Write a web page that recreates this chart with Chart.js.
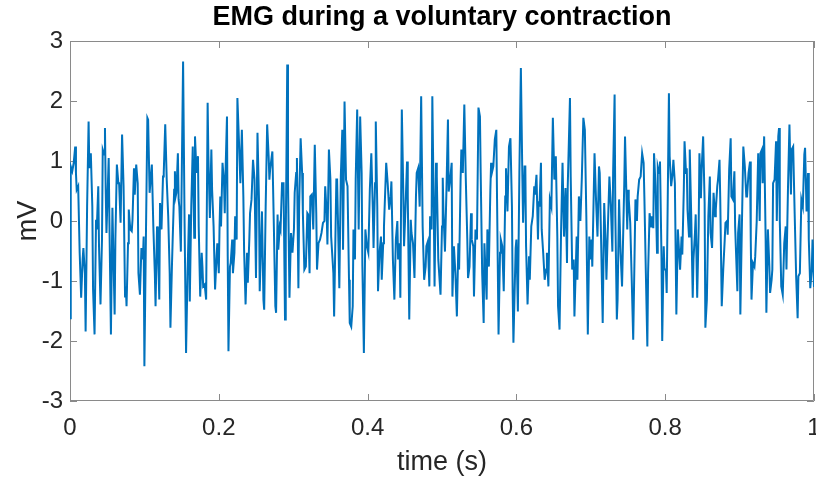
<!DOCTYPE html>
<html>
<head>
<meta charset="utf-8">
<script src="https://cdn.jsdelivr.net/npm/chart.js@4.4.1/dist/chart.umd.min.js"></script>
<style>
  body { margin: 0; background: #fff; }
  canvas { display: block; }
</style>
</head>
<body>
<canvas id="myChart" width="816" height="479"></canvas>
<script>
// EMG trace as [time (ms), voltage (mV)] pairs
const emg000 = [[0,-1.62],[1,0.91],[3,0.83],[5,0.97],[7,1.24],[8,0.80],[9,0.52],[11,0.58],[13,-0.53],[15,-1.28],[17,-0.64],[18,-0.45],[20,-0.87],[21,-1.84],[23,0.24],[25,1.66],[26,0.88],[28,1.13],[30,0.24],[31,-1.14],[33,-1.89],[35,0.02],[36,-0.14],[38,0.58],[39,-0.42],[41,-1.39],[43,-0.31],[44,1.19],[46,1.11],[47,1.55],[48,0.52],[49,-0.2],[52,1.05],[53,-0.03],[55,-1.89],[57,0.22],[60,-1.56],[61,-0.31],[63,0.94],[65,0.63],[66,0.63],[68,-0.03],[70,1.44],[72,0.58],[74,-1.26],[75,-1.09],[76,-1.42],[78,-0.37],[79,0.19],[81,-0.14],[83,-0.17],[84,0.02],[86,0.88],[87,0.44],[89,0.94],[91,0.63],[92,-0.87],[94,-1.23],[96,-0.45],[98,-0.64]];
const emg100 = [[99,-0.26],[100,-2.42],[102,-0.31],[104,1.72],[105,1.69],[107,0.47],[108,0.63],[110,0.94],[112,-0.09],[114,-0.87],[115,-1.42],[117,-0.09],[118,-0.31],[120,-1.31],[121,0.3],[123,-0.14],[125,0.74],[126,0.8],[128,1.61],[130,0.69],[132,0.08],[134,-0.87],[135,-1.78],[137,-0.76],[138,-0.31],[140,0.52],[141,0.83],[142,0.41],[143,0.47],[145,1.13],[146,0.36],[147,0.24],[149,-0.51],[152,2.66],[154,-0.03],[156,-2.2],[158,-0.87],[160,0.11],[161,-1.34],[163,0.24],[165,1.24],[167,-0.28],[168,1.41],[170,0.8],[172,1.08],[173,-0.09],[175,-1.26],[177,-0.53],[178,-0.76],[179,-1.09],[181,-1.06],[183,-1.31],[185,1.97],[186,1.08],[188,0.05],[190,1.19],[191,0.52],[193,-0.09],[195,-1.14],[197,-0.59],[198,-0.37]];
const emg200 = [[200,-0.87],[201,-0.09],[202,0.41],[203,-0.09],[205,0.97],[207,0.63],[208,0.13],[209,0.8],[211,1.74],[212,-0.59],[213,-2.17],[215,-0.76],[216,-0.7],[218,-0.31],[219,-0.87],[221,-0.53],[222,0.08],[224,-0.31],[225,2.05],[227,1.36],[229,0.63],[231,1.52],[233,0.41],[234,-0.48],[236,-1.39],[238,-0.53],[239,-1.03],[241,-0.31],[242,0.13],[244,0.36],[246,1.02],[248,0.69],[250,-0.95],[252,1.47],[254,0.36],[255,-1.17],[258,0.16],[260,-1.31],[261,-1.48],[263,0.24],[265,1.61],[267,1.08],[268,0.69],[269,0.86],[272,1.16],[274,-0.09],[276,-1.42],[277,-1.53],[279,0.11],[280,-0.48],[282,-0.09],[283,-0.14],[285,0.63],[287,0.63],[289,-1.64],[290,-0.31],[292,2.61],[293,0.69],[295,-1.28],[297,-0.2],[299,-0.53]];
const emg300 = [[301,-0.14],[302,0.47],[304,0.8],[305,1.05],[307,-1.12],[308,0.24],[310,1.38],[312,0.8],[313,0.13],[315,-0.81],[317,-0.76],[319,0.13],[320,0.11],[322,-0.87],[323,0.41],[325,0.44],[327,-0.14],[329,1.27],[331,0.13],[332,-0.81],[334,-0.37],[336,-0.31],[338,-0.2],[340,-0.03],[342,0.0],[343,0.58],[345,0.13],[346,-0.39],[348,1.19],[350,0.69],[351,-0.26],[354,-0.87],[355,-1.59],[358,0.69],[359,0.69],[361,-0.48],[362,-1.12],[364,0.74],[366,1.52],[367,-0.48],[369,1.99],[371,0.69],[373,0.58],[375,-0.98],[376,-1.7],[378,-1.76],[380,-1.42],[381,-0.14],[383,-0.64],[384,0.69],[386,1.86],[388,-0.14],[390,1.74],[392,0.8],[393,-0.76],[395,-2.2],[397,-0.14],[399,-0.42]];
const emg400 = [[401,-0.53],[403,0.52],[405,1.13],[407,0.19],[408,-0.45],[410,0.63],[411,1.66],[413,0.24],[414,-1.17],[416,-0.53],[418,-0.26],[419,-0.98],[421,-0.37],[422,-0.09],[425,0.97],[427,0.63],[429,0.19],[431,0.41],[432,0.66],[434,-0.64],[436,-1.31],[438,-0.31],[440,0.0],[441,-0.64],[443,-0.37],[444,-1.28],[446,1.86],[448,0.47],[449,-0.42],[451,0.24],[453,0.99],[454,0.41],[456,-1.64],[458,0.02],[459,-0.2],[461,-0.37],[463,-0.95],[465,0.41],[466,0.8],[468,0.88],[470,0.24],[472,2.08],[474,-0.09],[476,-0.98],[478,-0.76],[479,-0.42],[481,-0.34],[483,-1.09],[484,0.08],[486,-0.14],[487,2.08],[489,0.13],[490,-1.09],[492,0.97],[493,0.74],[495,-0.64],[498,-1.23],[500,-0.09]];
const emg500 = [[501,0.72],[502,0.13],[504,-0.51],[506,0.52],[508,1.69],[509,0.49],[511,0.69],[513,0.97],[514,-1.26],[516,-0.42],[518,-0.87],[520,-1.59],[522,-0.37],[523,-0.81],[525,0.69],[526,1.19],[528,0.8],[530,1.94],[532,0.69],[534,-0.31],[535,-0.95],[537,-0.76],[539,0.13],[540,-0.31],[542,-0.42],[543,-1.26],[545,-0.14],[547,-0.31],[549,1.89],[551,1.74],[552,0.8],[554,-0.87],[556,-1.7],[557,-0.37],[560,-1.31],[561,-0.14],[563,-0.76],[565,0.52],[566,0.97],[567,0.8],[569,0.91],[571,1.36],[573,1.52],[574,0.36],[576,-1.89],[578,-0.53],[579,-0.31],[581,-0.42],[583,-1.17],[585,0.41],[586,0.88],[588,0.16],[590,1.24],[592,1.38],[594,0.24],[595,-1.2],[596,-2.03]];
const emg600 = [[599,-0.45],[600,-0.31],[602,-1.51],[604,0.8],[606,2.55],[608,0.74],[609,-0.03],[611,0.91],[612,0.91],[613,-0.42],[615,-1.39],[617,-0.59],[618,-0.98],[620,-0.09],[622,0.08],[624,0.58],[625,0.44],[627,0.77],[629,-0.31],[630,0.33],[631,0.24],[633,0.97],[634,-0.14],[636,-0.53],[638,-0.98],[640,-0.81],[641,-0.53],[643,-1.09],[645,0.36],[647,0.24],[649,1.72],[651,0.69],[653,1.08],[655,-0.26],[656,-1.42],[658,-1.81],[660,-0.2],[662,0.97],[664,-0.26],[666,0.55],[668,-0.7],[669,0.58],[672,2.05],[673,0.74],[675,-0.81],[677,-0.64],[678,-1.59],[681,-0.26],[682,-0.98],[684,0.41],[686,0.0],[688,0.74],[690,1.72],[692,1.52],[694,0.08],[696,-1.89],[698,-0.26],[699,-0.64],[701,-0.31],[702,-0.76]];
const emg700 = [[705,1.13],[707,0.36],[709,-0.26],[711,0.91],[712,0.8],[714,-0.42],[716,-1.7],[718,0.3],[720,-0.42],[721,-0.98],[723,-0.09],[725,0.74],[727,0.24],[729,-0.51],[730,0.8],[732,2.11],[733,0.08],[735,-1.64],[736,-1.31],[738,0.36],[740,-0.53],[742,-1.09],[745,0.63],[746,1.41],[749,-0.14],[750,0.52],[751,0.36],[753,-0.03],[755,-0.98],[757,-1.98],[760,0.36],[762,0.0],[763,0.41],[765,0.69],[767,0.74],[769,1.13],[771,0.97],[772,0.41],[774,-0.87],[776,-2.09],[777,-0.87],[779,0.13],[781,-0.09],[782,0.08],[784,-0.12],[785,1.13],[787,0.58],[789,-0.53],[790,0.91],[792,0.8],[793,0.99],[795,-0.59],[796,-2.0],[798,-0.42],[799,-0.81],[801,-0.81],[802,-1.2]];
const emg800 = [[805,2.13],[806,1.08],[808,0.58],[810,0.8],[811,1.02],[813,0.63],[815,-1.56],[817,-0.14],[819,-0.59],[820,-0.81],[822,-0.26],[823,-0.56],[825,0.52],[826,1.33],[828,0.8],[829,0.88],[830,0.19],[832,-0.26],[833,1.19],[835,0.08],[837,-1.28],[838,-0.64],[840,-0.2],[841,0.11],[843,-1.28],[845,-0.09],[846,1.13],[848,0.38],[849,0.86],[851,1.41],[853,0.3],[854,-1.78],[856,-1.31],[858,0.08],[860,0.74],[861,-0.2],[863,-0.45],[865,0.47],[867,0.08],[868,0.19],[870,0.58],[871,0.69],[873,1.02],[874,0.36],[876,-1.42],[878,-0.81],[880,-0.31],[881,-0.03],[883,0.0],[884,-0.23],[886,0.86],[888,1.38],[889,0.41],[891,0.36],[893,0.83],[894,-0.09],[897,-1.17],[898,-0.2],[900,0.11],[901,-1.56],[903,-0.14],[905,1.24]];
const emg900 = [[907,0.91],[909,0.41],[910,0.41],[912,0.8],[914,0.99],[915,-0.31],[916,-1.31],[918,-0.7],[920,-0.76],[921,-0.59],[923,0.0],[925,1.13],[927,0.0],[928,1.13],[930,1.19],[931,0.63],[933,1.41],[935,-0.31],[936,-1.53],[938,-0.14],[940,-0.76],[941,-1.2],[943,-0.98],[944,-0.81],[945,0.63],[947,0.69],[949,1.33],[950,0.0],[952,1.41],[953,1.55],[954,0.02],[956,-1.09],[958,-1.23],[960,-0.37],[962,-0.09],[963,-0.81],[965,0.52],[967,1.61],[969,0.44],[970,1.19],[972,1.24],[974,0.13],[976,-0.92],[978,-1.62],[979,-0.92],[981,-0.87],[983,0.36],[985,0.24],[987,1.11],[988,1.22],[990,0.16],[992,0.8],[993,-0.31],[995,-1.12],[997,-0.81],[998,-0.31],[999,-0.53],[1000,-1.1]];

const segments = [emg000, emg100, emg200, emg300, emg400, emg500, emg600, emg700, emg800, emg900];

const xTicks = [0, 0.2, 0.4, 0.6, 0.8, 1];
const yTicks = [-3, -2, -1, 0, 1, 2, 3];
const titleText = 'EMG during a voluntary contraction';

function getDataForChart() {
    let data = [];
    for (let seg of segments) {
        for (let p of seg) {
            data.push({ x: p[0] / 1000, y: p[1] });
        }
    }
    return data;
}

const fontFamily = "'Liberation Sans', Arial, Helvetica, sans-serif";
const axisColor = '#8a8a8a';
const textColor = '#262626';

// box round the plot plus inward tick marks on all four sides
const matlabBox = {
    id: 'matlabBox',
    beforeDatasetsDraw(chart) {
        const { ctx, chartArea: { left, right, top, bottom }, scales: { x, y } } = chart;
        const len = 7;
        ctx.save();
        ctx.strokeStyle = axisColor;
        ctx.lineWidth = 1;
        ctx.beginPath();
        ctx.rect(left + 0.5, top + 0.5, right - left - 1, bottom - top - 1);
        xTicks.forEach(v => {
            const px = Math.round(x.getPixelForValue(v)) + 0.5;
            ctx.moveTo(px, bottom); ctx.lineTo(px, bottom - len);
            ctx.moveTo(px, top); ctx.lineTo(px, top + len);
        });
        yTicks.forEach(v => {
            const py = Math.round(y.getPixelForValue(v)) + 0.5;
            ctx.moveTo(left, py); ctx.lineTo(left + len, py);
            ctx.moveTo(right, py); ctx.lineTo(right - len, py);
        });
        ctx.stroke();
        ctx.restore();
    },
    // title centred over the axes, like MATLAB does
    afterDraw(chart) {
        const { ctx, chartArea: { left, right } } = chart;
        ctx.save();
        ctx.font = `bold 27px ${fontFamily}`;
        ctx.fillStyle = '#000';
        ctx.textAlign = 'center';
        ctx.textBaseline = 'middle';
        ctx.fillText(titleText, (left + right) / 2, 18);
        ctx.restore();
    }
};

const ctx = document.getElementById('myChart');
const myChart = new Chart(ctx, {
    type: 'line',
    data: {
        datasets: [{
            label: 'EMG',
            data: getDataForChart(),
            borderColor: '#0072BD',
            borderWidth: 2,
            pointRadius: 0,
            tension: 0,
            fill: false
        }]
    },
    options: {
        responsive: false,
        animation: false,
        devicePixelRatio: 1,
        layout: { padding: { left: 0, right: 2, top: 41, bottom: 0 } },
        plugins: {
            legend: { display: false },
            tooltip: { enabled: false },
            title: { display: false }
        },
        scales: {
            x: {
                type: 'linear',
                min: 0,
                max: 1,
                afterBuildTicks(scale) { scale.ticks = xTicks.map(v => ({ value: v })); },
                afterFit(scale) { scale.height = 78; scale.paddingLeft = 0; scale.paddingRight = 0; },
                grid: { display: false, drawTicks: false },
                border: { display: false },
                ticks: {
                    color: textColor,
                    padding: 13,
                    maxRotation: 0,
                    font: { family: fontFamily, size: 24 },
                    callback: v => String(v)
                },
                title: {
                    display: true,
                    text: 'time (s)',
                    color: textColor,
                    font: { family: fontFamily, size: 27 },
                    padding: { top: 0, bottom: 0 }
                }
            },
            y: {
                min: -3,
                max: 3,
                afterBuildTicks(scale) { scale.ticks = yTicks.map(v => ({ value: v })); },
                afterFit(scale) { scale.width = 70; scale.paddingTop = 0; scale.paddingBottom = 0; },
                grid: { display: false, drawTicks: false },
                border: { display: false },
                ticks: {
                    color: textColor,
                    padding: 7,
                    font: { family: fontFamily, size: 24 },
                    callback: v => String(v)
                },
                title: {
                    display: true,
                    text: 'mV',
                    color: textColor,
                    font: { family: fontFamily, size: 27 },
                    padding: { top: 12, bottom: 0 }
                }
            }
        }
    },
    plugins: [matlabBox]
});
</script>
</body>
</html>
